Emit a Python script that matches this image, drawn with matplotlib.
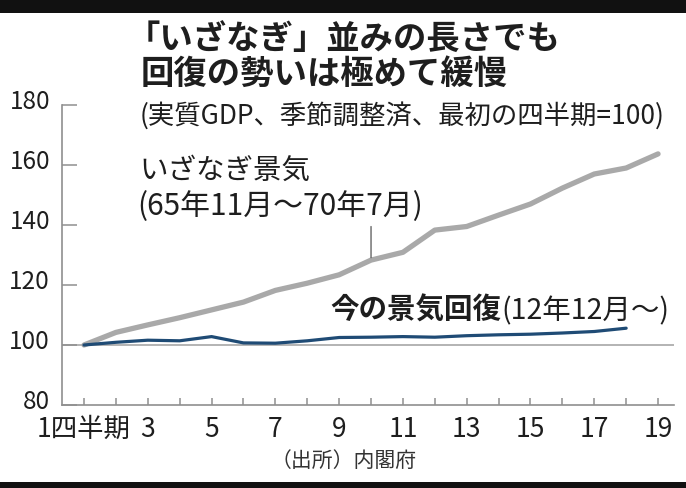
import matplotlib
matplotlib.use('Agg')
import matplotlib.pyplot as plt
from matplotlib.patches import Rectangle
from matplotlib.transforms import ScaledTranslation

# ---- data ----
quarters = list(range(1, 20))
izanagi = [100, 104.2, 106.7, 109.1, 111.7, 114.3, 118.2, 120.6, 123.4, 128.3,
           130.9, 138.3, 139.5, 143.3, 147.0, 152.3, 157.0, 159.0, 163.7]
current_quarters = list(range(1, 19))
current = [100, 100.9, 101.6, 101.4, 102.8, 100.7, 100.6, 101.4, 102.5, 102.6,
           102.8, 102.6, 103.1, 103.4, 103.6, 104.0, 104.5, 105.6]
yticks = [80, 100, 120, 140, 160, 180]
xtick_labels = ['1四半期', '', '3', '', '5', '', '7', '', '9', '', '11', '', '13', '',
                '15', '', '17', '', '19']

title_lines = ['「いざなぎ」並みの長さでも', '回復の勢いは極めて緩慢']
subtitle = '(実質GDP、季節調整済、最初の四半期=100)'
izanagi_label = ['いざなぎ景気', '(65年11月〜70年7月)']
current_label_bold = '今の景気回復'
current_label_norm = '(12年12月〜)'
source = '（出所）内閣府'

plt.rcParams['font.family'] = ['Noto Sans CJK JP', 'DejaVu Sans']

W, H = 686, 489
fig = plt.figure(figsize=(W / 100, H / 100), dpi=100)
fig.patch.set_facecolor('white')


def fx(x):
    return x / W


def fy(y):
    return 1 - y / H


# black letterbox bars
fig.patches.append(Rectangle((0, fy(14)), 1, 14 / H, transform=fig.transFigure,
                             facecolor='#111111', edgecolor='none', zorder=10))
fig.patches.append(Rectangle((0, 0), 1, 6 / H, transform=fig.transFigure,
                             facecolor='#111111', edgecolor='none', zorder=10))

TXT = '#1e1e1e'
SPINE = '#8f8f8f'

ax = fig.add_axes([fx(62), fy(406), fx(674) - fx(62), fy(106) - fy(406)])
ax.set_xlim(0.31, 19.5)
ax.set_ylim(80, 180)
ax.set_facecolor('white')
for s in ['top', 'right']:
    ax.spines[s].set_visible(False)
for s in ['left', 'bottom']:
    ax.spines[s].set_color(SPINE)
    ax.spines[s].set_linewidth(1.2)

ax.set_yticks(yticks)
ax.set_yticklabels([])
ax.set_xticks(quarters)
ax.set_xticklabels(xtick_labels)
ax.tick_params(axis='y', direction='in', length=11, width=1.1, color=SPINE)
ax.tick_params(axis='x', direction='in', length=5, width=1.1, color=SPINE,
               labelsize=19, pad=7, labelcolor=TXT)

# y tick labels, nudged slightly upward like the reference
ylab_tr = ax.get_yaxis_transform() + ScaledTranslation(-12 / 100, 4 / 100,
                                                       fig.dpi_scale_trans)
for v in yticks:
    ax.text(0, v, str(v), transform=ylab_tr, fontsize=17.5, color=TXT,
            ha='right', va='center', clip_on=False)

ax.axhline(100, color='#b3b3b3', lw=1.4, zorder=1)

ax.plot(quarters, izanagi, color='#a9a9a9', lw=3.8, solid_joinstyle='round',
        solid_capstyle='round', zorder=3)
ax.plot(current_quarters, current, color='#1f4b75', lw=2.3, solid_joinstyle='round',
        solid_capstyle='round', zorder=4)

# leader line for izanagi label
ax.annotate('', xy=(10, izanagi[9] + 0.8), xytext=(10, 139.5),
            arrowprops=dict(arrowstyle='-', color='#555555', lw=0.9,
                            shrinkA=0, shrinkB=0))

# titles
fig.text(fx(127), fy(39), title_lines[0], fontsize=24, weight='bold', color=TXT,
         ha='left', va='center')
fig.text(fx(141), fy(74), title_lines[1], fontsize=24, weight='bold', color=TXT,
         ha='left', va='center')
fig.text(fx(140), fy(116), subtitle, fontsize=19, color=TXT, ha='left', va='center')

# series labels
fig.text(fx(139), fy(171), izanagi_label[0], fontsize=20.5, color=TXT,
         ha='left', va='center')
fig.text(fx(137), fy(207), izanagi_label[1], fontsize=21.5, color=TXT,
         ha='left', va='center')
t1 = fig.text(fx(330), fy(311), current_label_bold, fontsize=20.5, weight='bold',
              color=TXT, ha='left', va='center')
ax.annotate(current_label_norm, xy=(1, 0.5), xycoords=t1, fontsize=20.5,
            color=TXT, ha='left', va='center')

fig.text(fx(344), fy(461), source, fontsize=15, color='#333333',
         ha='center', va='center')

fig.savefig('out.png', dpi=100, facecolor='white')
